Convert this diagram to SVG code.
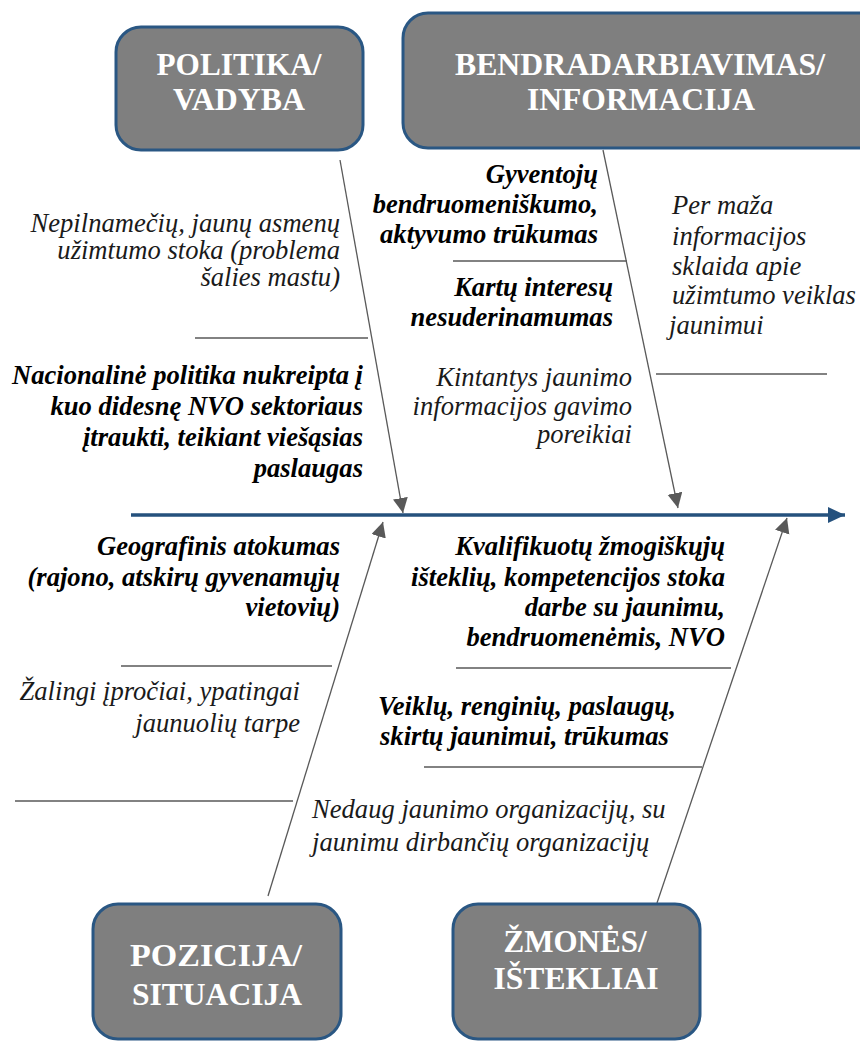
<svg xmlns="http://www.w3.org/2000/svg" width="860" height="1041" viewBox="0 0 860 1041">
<style>
.box{fill:#7f7f7f;stroke:#2a5783;stroke-width:3}
.bt{font-family:"Liberation Serif","Times New Roman",serif;font-weight:bold;font-size:31px;fill:#ffffff;text-anchor:middle}
.it{font-family:"Liberation Serif","Times New Roman",serif;font-style:italic;font-size:26.6px;fill:#1a1a1a}
.bi{font-family:"Liberation Serif","Times New Roman",serif;font-style:italic;font-weight:bold;font-size:26.6px;fill:#000000}
.r{text-anchor:end}
.bone{stroke:#595959;stroke-width:1.3;fill:none}
.sep{stroke:#595959;stroke-width:1.3}
</style>
<defs>
<marker id="ah" markerUnits="userSpaceOnUse" markerWidth="16" markerHeight="16" refX="15" refY="7.5" orient="auto">
<path d="M0,0 L15,7.5 L0,15 Z" fill="#595959"/>
</marker>
<marker id="mh" markerUnits="userSpaceOnUse" markerWidth="18" markerHeight="18" refX="17" refY="8" orient="auto">
<path d="M0,0 L17,8 L0,16 Z" fill="#25517d"/>
</marker>
</defs>
<g id="connectors">
<line x1="131" y1="515" x2="845" y2="515" stroke="#25517d" stroke-width="3.5" marker-end="url(#mh)"/>
<line class="bone" x1="340" y1="160" x2="403" y2="513" marker-end="url(#ah)"/>
<line class="bone" x1="603" y1="150" x2="678" y2="508" marker-end="url(#ah)"/>
<line class="bone" x1="268" y1="896" x2="383" y2="522" marker-end="url(#ah)"/>
<line class="bone" x1="657" y1="903" x2="787" y2="518" marker-end="url(#ah)"/>
<line class="sep" x1="195" y1="338" x2="368" y2="338"/>
<line class="sep" x1="453" y1="261" x2="627" y2="261"/>
<line class="sep" x1="656" y1="374" x2="827" y2="374"/>
<line class="sep" x1="121" y1="666" x2="332" y2="666"/>
<line class="sep" x1="15" y1="801" x2="293" y2="801" stroke="#7f7f7f" stroke-width="2"/>
<line class="sep" x1="456" y1="668" x2="731" y2="668"/>
<line class="sep" x1="424" y1="767" x2="702" y2="767"/>
</g>
<g id="politika">
<rect class="box" x="116" y="27" width="247" height="123" rx="25"/>
<text class="bt" x="239" y="75" textLength="165" lengthAdjust="spacingAndGlyphs">POLITIKA/</text>
<text class="bt" x="239" y="110" textLength="132" lengthAdjust="spacingAndGlyphs">VADYBA</text>
</g>
<g id="bendradarbiavimas">
<rect class="box" x="403" y="13" width="480" height="135" rx="25"/>
<text class="bt" x="640" y="75" textLength="370" lengthAdjust="spacingAndGlyphs">BENDRADARBIAVIMAS/</text>
<text class="bt" x="641" y="110" textLength="228" lengthAdjust="spacingAndGlyphs">INFORMACIJA</text>
</g>
<g id="pozicija">
<rect class="box" x="93" y="904" width="248" height="135" rx="25"/>
<text class="bt" x="216" y="966" textLength="172" lengthAdjust="spacingAndGlyphs">POZICIJA/</text>
<text class="bt" x="217" y="1005" textLength="170" lengthAdjust="spacingAndGlyphs">SITUACIJA</text>
</g>
<g id="zmones">
<rect class="box" x="453" y="904" width="247" height="135" rx="25"/>
<text class="bt" x="575" y="952" textLength="143" lengthAdjust="spacingAndGlyphs">ŽMONĖS/</text>
<text class="bt" x="576" y="989" textLength="165" lengthAdjust="spacingAndGlyphs">IŠTEKLIAI</text>
</g>
<g id="cause-a">
<text class="it r" x="340" y="232">Nepilnamečių, jaunų asmenų</text>
<text class="it r" x="340" y="259">užimtumo stoka (problema</text>
<text class="it r" x="340" y="286">šalies mastu)</text>
</g>
<g id="cause-b">
<text class="bi r" x="363" y="384">Nacionalinė politika nukreipta į</text>
<text class="bi r" x="363" y="415">kuo didesnę NVO sektoriaus</text>
<text class="bi r" x="363" y="446">įtraukti, teikiant viešąsias</text>
<text class="bi r" x="363" y="477">paslaugas</text>
</g>
<g id="cause-c">
<text class="bi r" x="598" y="183">Gyventojų</text>
<text class="bi r" x="598" y="213">bendruomeniškumo,</text>
<text class="bi r" x="598" y="243">aktyvumo trūkumas</text>
</g>
<g id="cause-d">
<text class="bi r" x="613" y="296">Kartų interesų</text>
<text class="bi r" x="613" y="326">nesuderinamumas</text>
</g>
<g id="cause-e">
<text class="it r" x="632" y="386">Kintantys jaunimo</text>
<text class="it r" x="632" y="415">informacijos gavimo</text>
<text class="it r" x="632" y="443">poreikiai</text>
</g>
<g id="cause-f">
<text class="it" x="672" y="214">Per maža</text>
<text class="it" x="672" y="245">informacijos</text>
<text class="it" x="672" y="275">sklaida apie</text>
<text class="it" x="672" y="304">užimtumo veiklas</text>
<text class="it" x="669" y="334">jaunimui</text>
</g>
<g id="cause-g">
<text class="bi r" x="340" y="555">Geografinis atokumas</text>
<text class="bi r" x="340" y="586">(rajono, atskirų gyvenamųjų</text>
<text class="bi r" x="340" y="616">vietovių)</text>
</g>
<g id="cause-h">
<text class="it r" x="300" y="700">Žalingi įpročiai, ypatingai</text>
<text class="it r" x="300" y="732">jaunuolių tarpe</text>
</g>
<g id="cause-i">
<text class="bi r" x="725" y="555">Kvalifikuotų žmogiškųjų</text>
<text class="bi r" x="725" y="586">išteklių, kompetencijos stoka</text>
<text class="bi r" x="725" y="616">darbe su jaunimu,</text>
<text class="bi r" x="725" y="646">bendruomenėmis, NVO</text>
</g>
<g id="cause-j">
<text class="bi" x="378" y="715">Veiklų, renginių, paslaugų,</text>
<text class="bi" x="380" y="745">skirtų jaunimui, trūkumas</text>
</g>
<g id="cause-k">
<text class="it" x="312" y="818">Nedaug jaunimo organizacijų, su</text>
<text class="it" x="312" y="851">jaunimu dirbančių organizacijų</text>
</g>
</svg>
